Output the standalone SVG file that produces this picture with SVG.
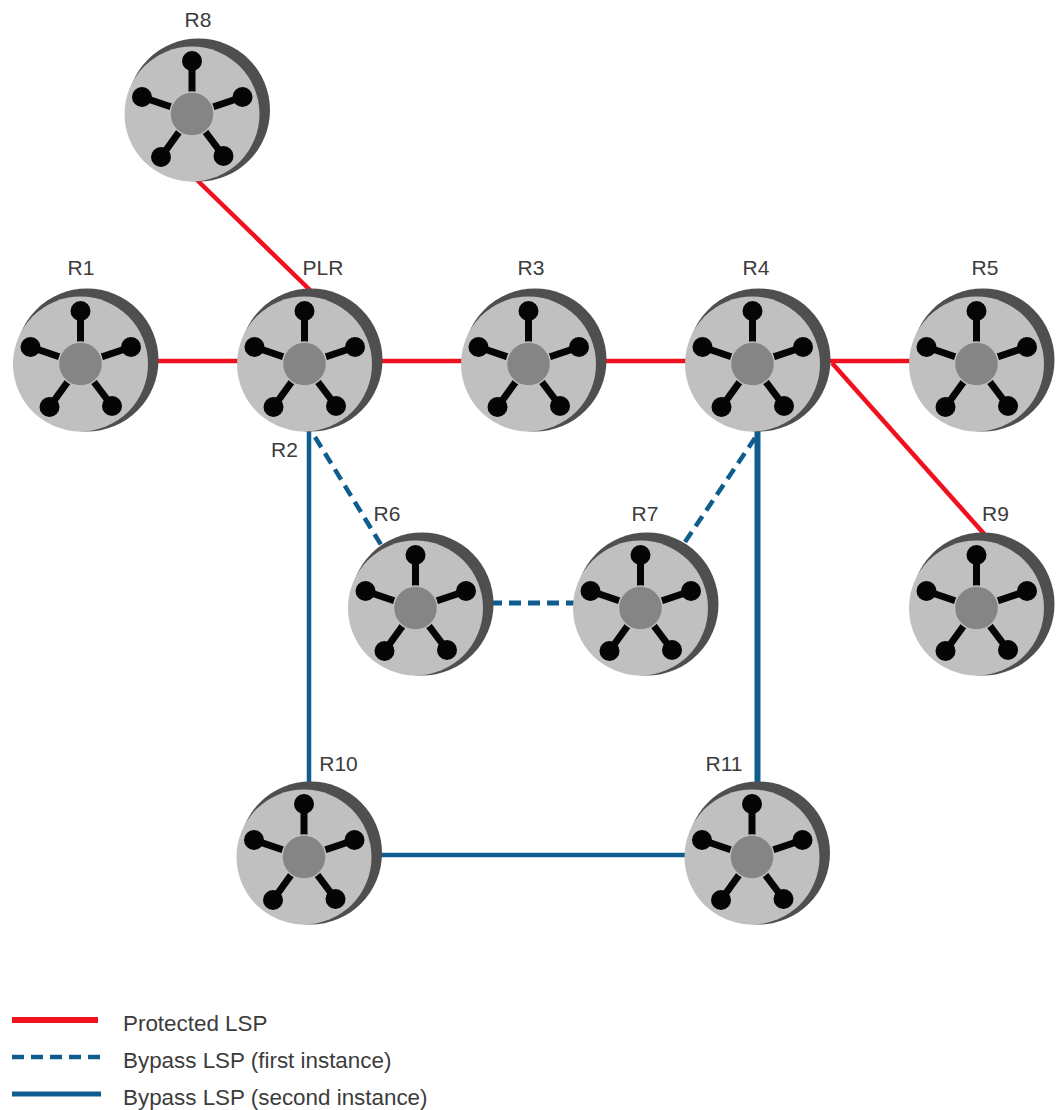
<svg xmlns="http://www.w3.org/2000/svg" xmlns:xlink="http://www.w3.org/1999/xlink" width="1057" height="1110" viewBox="0 0 1057 1110">
<style>
text{font-family:"Liberation Sans",Arial,sans-serif;font-size:21px;fill:#3c3c3c;text-anchor:middle}
.leg text{font-size:22.400px;text-anchor:start}
.lsp{fill:none;stroke-width:4.5}
.red{stroke:#f0101e}
.blue{stroke:#0f5c8e}
.dash{stroke-dasharray:12 7}
.spoke{stroke:#050505;stroke-width:7;fill:none}
.knob{fill:#050505}
</style>
<defs>
<g id="router">
<circle cx="6.5" cy="-4" r="71.5" fill="#4f4f4f"/>
<circle cx="0" cy="0" r="67.5" fill="#c0c0c0"/>
<path class="spoke" d="M0 0V-53M0 0L50.500 -17M0 0L-50 -17M0 0L-31 43M0 0L31.500 42"/>
<circle class="knob" cx="0" cy="-53" r="10"/>
<circle class="knob" cx="50.500" cy="-17" r="10"/>
<circle class="knob" cx="-50" cy="-17" r="10"/>
<circle class="knob" cx="-31" cy="43" r="10"/>
<circle class="knob" cx="31.500" cy="42" r="10"/>
<circle cx="0" cy="0" r="22" fill="#858585" stroke="#c0c0c0" stroke-width="1.500"/>
</g>
</defs>
<rect width="1057" height="1110" fill="#fff"/>
<g id="connectors">
<path class="lsp red" d="M197 180L312 292"/>
<path class="lsp red" d="M150 361H912"/>
<path class="lsp red" d="M832 363L986 536"/>
<path class="lsp blue dash" d="M315 437L383 548"/>
<path class="lsp blue dash" style="stroke-width:5" d="M490 603H576"/>
<path class="lsp blue dash" d="M685 542L755 438"/>
<path class="lsp blue" d="M309 430V786"/>
<path class="lsp blue" style="stroke-width:6" d="M757.500 430V786"/>
<path class="lsp blue" d="M378 855H690"/>
</g>
<g id="R8"><use xlink:href="#router" href="#router" x="192" y="114"/><text x="198" y="27">R8</text></g>
<g id="R1"><use xlink:href="#router" href="#router" x="80.500" y="364"/><text x="81" y="275">R1</text></g>
<g id="R2"><use xlink:href="#router" href="#router" x="304.500" y="364"/><text x="323" y="275">PLR</text><text x="284.500" y="457">R2</text></g>
<g id="R3"><use xlink:href="#router" href="#router" x="528.500" y="364"/><text x="531" y="275">R3</text></g>
<g id="R4"><use xlink:href="#router" href="#router" x="752.500" y="364"/><text x="756" y="275">R4</text></g>
<g id="R5"><use xlink:href="#router" href="#router" x="976.500" y="364"/><text x="985" y="275">R5</text></g>
<g id="R6"><use xlink:href="#router" href="#router" x="415.500" y="608"/><text x="387" y="521">R6</text></g>
<g id="R7"><use xlink:href="#router" href="#router" x="640.500" y="608"/><text x="645" y="521">R7</text></g>
<g id="R9"><use xlink:href="#router" href="#router" x="976.500" y="608"/><text x="995.500" y="521">R9</text></g>
<g id="R10"><use xlink:href="#router" href="#router" x="304" y="857"/><text x="338.500" y="771">R10</text></g>
<g id="R11"><use xlink:href="#router" href="#router" x="752" y="857"/><text x="724" y="771">R11</text></g>
<g id="legend" class="leg">
<path class="lsp red" style="stroke-width:6" d="M12 1020H98"/>
<path class="lsp blue dash" d="M12 1057H102"/>
<path class="lsp blue" style="stroke-width:5" d="M12 1094H101"/>
<text x="123" y="1031">Protected LSP</text>
<text x="123" y="1068">Bypass LSP (first instance)</text>
<text x="123" y="1105">Bypass LSP (second instance)</text>
</g>
</svg>
